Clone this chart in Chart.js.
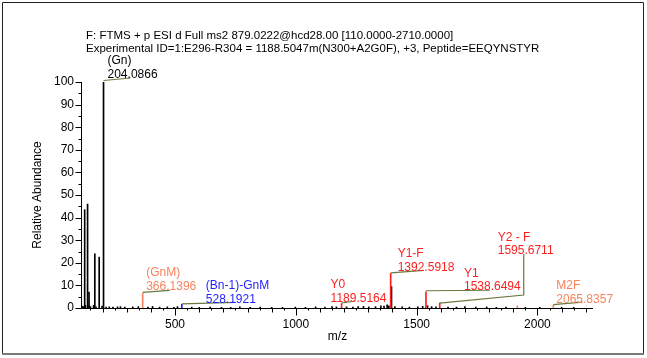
<!DOCTYPE html>
<html>
<head>
<meta charset="utf-8">
<script src="https://cdn.jsdelivr.net/npm/chart.js@4.4.1/dist/chart.umd.min.js"></script>
<style>
  html, body { margin: 0; padding: 0; background: #fff; }
</style>
</head>
<body>
<canvas id="spectre" width="647" height="358"></canvas>
<script>
// Spectre MS2 HCD du glycopeptide EEQYNSTYR (N300 + A2G0F)

const enTete = [
  'F: FTMS + p ESI d Full ms2 879.0222@hcd28.00 [110.0000-2710.0000]',
  'Experimental ID=1:E296-R304 = 1188.5047m(N300+A2G0F), +3, Peptide=EEQYNSTYR'
];

// Pics annotés
const picsMz = [204.0866, 366.1396, 528.1921, 1189.5164, 1392.5918, 1538.6494, 1595.6711, 2065.8357, 1917.0];
const picsIntensite = [100, 6.5, 1.6, 2.0, 15.3, 7.2, 2.2, 1.3, 1.0];
const picsNom = ['(Gn)', '(GnM)', '(Bn-1)-GnM', 'Y0', 'Y1-F', 'Y1', 'Y2 - F', 'M2F', ''];
const picsType = ['oxonium', 'b', 'bn', 'y', 'y', 'y', 'y', 'b', 'b'];

// Autres ions (oxonium, isotopes) et bruit de fond
const autresMz = [126.0550, 138.0550, 144.0655, 168.0655, 186.0761, 1396.0];
const autresIntensite = [43.5, 46.0, 7.0, 24.0, 22.5, 9.5];

const bruitMz = [115.05, 120.08, 129.10, 145.06, 150.06, 163.06, 173.00, 198.09, 215.10, 228.10,
  243.10, 262.10, 274.10, 292.10, 325.10, 348.10, 388.20, 407.20, 436.20, 468.20,
  495.20, 510.20, 569.20, 600.30, 645.30, 692.30, 730.30, 768.30, 811.30, 852.40,
  900.0, 945.0, 998.0, 1040.0, 1082.0, 1120.0, 1150.0, 1168.0, 1210.0, 1236.0,
  1258.0, 1280.0, 1302.0, 1330.0, 1352.0, 1365.0, 1378.0, 1385.0, 1410.0, 1440.0,
  1470.0, 1505.0, 1525.0, 1545.0, 1562.0, 1580.0, 1630.0, 1665.0, 1700.0, 1745.0,
  1790.0, 1830.0, 1870.0, 1950.0, 2010.0, 2100.0, 2150.0];
const bruitIntensite = [0.8, 0.6, 1.2, 1.0, 0.6, 1.2, 0.5, 0.9, 0.4, 0.5,
  0.4, 0.5, 0.6, 0.4, 0.5, 0.6, 0.4, 0.7, 0.4, 0.5,
  0.3, 0.6, 0.4, 0.3, 0.4, 0.3, 0.3, 0.5, 0.3, 0.4,
  0.3, 0.3, 0.4, 0.3, 0.5, 0.4, 0.6, 0.5, 0.5, 0.4,
  0.6, 0.7, 0.5, 0.6, 1.0, 0.8, 1.4, 1.0, 0.6, 0.5,
  0.4, 0.5, 0.7, 1.0, 0.6, 0.5, 0.4, 0.4, 0.6, 0.4,
  0.5, 0.3, 0.4, 0.3, 0.3, 0.3, 0.3];

const yGraduations = [0, 10, 20, 30, 40, 50, 60, 70, 80, 90, 100];
const xGraduations = [500, 1000, 1500, 2000];

// Couleurs par type d'ion
const couleurType = {
  oxonium: '#000000',
  b: '#f6845e',
  bn: '#1f1fff',
  y: '#fb1f1f'
};
const couleurTrait = '#67793c';

// Placement des étiquettes : décalage du texte et tracé du trait de rappel (px, depuis le sommet du pic)
const placement = [
  { dx: 4, dy: -8.5, trait: [[0, -1.5], [27, -4]] },
  { dx: 3.5, dy: -8, trait: [[0, -1], [27, -3]] },
  { dx: 24, dy: -6, trait: [[0, -0.5], [54, -2]] },
  { dx: -11, dy: -6, trait: [[0, -0.5], [14, -2.5]] },
  { dx: 7, dy: -7, trait: [[0, -0.5], [33, -3]] },
  { dx: 38, dy: -6, trait: [[0, -1], [64, -1.5]] },
  { dx: 58, dy: -53, trait: [[0, 0], [84, -8], [84, -49]] },
  { dx: 3, dy: -6.5, trait: [[0, -0.5], [29, -3]] },
  null
];

const police = '"Liberation Sans", Arial, sans-serif';
const fonte = { family: police, size: 12 };

const donneesBruit = bruitMz.map((x, i) => ({ x, y: bruitIntensite[i] }))
  .concat(autresMz.map((x, i) => ({ x, y: autresIntensite[i] })));
const donneesPics = picsMz.map((x, i) => ({ x, y: picsIntensite[i] }));

// Cadre de la fenêtre
const cadre = {
  id: 'cadre',
  beforeDraw(chart) {
    const c = chart.ctx;
    c.save();
    c.fillStyle = '#fff';
    c.fillRect(0, 0, chart.width, chart.height);
    c.strokeStyle = '#222';
    c.lineWidth = 1;
    c.beginPath();
    c.moveTo(2.5, 354);
    c.lineTo(2.5, 2.5);
    c.lineTo(643.5, 2.5);
    c.lineTo(643.5, 354);
    c.stroke();
    c.fillStyle = '#7a7a7a';
    c.fillRect(2, 353, 642, 2);
    c.restore();
  }
};

// Axes et graduations (majeures et mineures)
const graduations = {
  id: 'graduations',
  afterDraw(chart) {
    const c = chart.ctx;
    const xs = chart.scales.x, ys = chart.scales.y;
    const a = chart.chartArea;
    c.save();
    c.strokeStyle = '#000';
    c.lineWidth = 1;
    c.beginPath();
    c.moveTo(a.left - 0.5, ys.getPixelForValue(100));
    c.lineTo(a.left - 0.5, a.bottom + 0.5);
    c.lineTo(a.right, a.bottom + 0.5);
    for (let v = 0; v <= 100; v += 5) {
      const y = Math.round(ys.getPixelForValue(v)) + 0.5;
      const l = v % 10 === 0 ? 6 : 3;
      c.moveTo(a.left - 0.5, y);
      c.lineTo(a.left - 0.5 - l, y);
    }
    for (let v = 150; v <= xs.max; v += 50) {
      const x = Math.round(xs.getPixelForValue(v)) + 0.5;
      const l = v % 500 === 0 ? 7 : (v % 100 === 0 ? 4 : 2);
      c.moveTo(x, a.bottom + 0.5);
      c.lineTo(x, a.bottom + 0.5 + l);
    }
    c.stroke();

    // en-tête du scan
    c.fillStyle = '#000';
    c.font = '11.5px ' + police;
    c.textBaseline = 'alphabetic';
    c.textAlign = 'left';
    c.fillText(enTete[0], 86, 39);
    c.fillText(enTete[1], 86, 52);
    c.restore();
  }
};

// Étiquettes des pics avec traits de rappel
const etiquettes = {
  id: 'etiquettes',
  afterDatasetsDraw(chart) {
    const c = chart.ctx;
    const xs = chart.scales.x, ys = chart.scales.y;
    c.save();
    c.font = '12px ' + police;
    c.textAlign = 'left';
    c.textBaseline = 'alphabetic';
    picsMz.forEach((mz, i) => {
      const p = placement[i];
      if (!p) return;
      const px = xs.getPixelForValue(mz);
      const py = ys.getPixelForValue(picsIntensite[i]);
      c.strokeStyle = couleurTrait;
      c.lineWidth = 1.2;
      c.beginPath();
      p.trait.forEach(([dx, dy], k) => {
        if (k === 0) c.moveTo(px + dx, py + dy);
        else c.lineTo(px + dx, py + dy);
      });
      c.stroke();
      const base = py + p.dy + 4.3;
      c.fillStyle = couleurType[picsType[i]];
      c.fillText(mz.toFixed(4), px + p.dx, base);
      c.fillText(picsNom[i], px + p.dx, base - 13.5);
    });
    c.restore();
  }
};

new Chart(document.getElementById('spectre'), {
  type: 'bar',
  data: {
    datasets: [
      {
        label: 'bruit',
        data: donneesBruit,
        backgroundColor: '#000',
        barThickness: 1,
        grouped: false,
        order: 2
      },
      {
        label: 'pics',
        data: donneesPics,
        backgroundColor: picsType.map(t => couleurType[t]),
        barThickness: 1,
        grouped: false,
        order: 1
      }
    ]
  },
  options: {
    responsive: false,
    animation: false,
    layout: { padding: { left: 26, right: 54, top: 82, bottom: 8 } },
    plugins: {
      legend: { display: false },
      tooltip: { enabled: false }
    },
    scales: {
      x: {
        type: 'linear',
        min: 115,
        max: 2230,
        offset: false,
        grid: { display: false, drawTicks: false },
        border: { display: false },
        afterBuildTicks: s => { s.ticks = xGraduations.map(v => ({ value: v })); },
        ticks: {
          padding: 9, font: fonte, color: '#000', maxRotation: 0, autoSkip: false,
          callback: v => String(v)
        },
        title: { display: true, text: 'm/z', font: fonte, color: '#000', padding: { top: 0, bottom: 6 } },
        afterFit: s => { s.height = 42; }
      },
      y: {
        min: 0,
        max: 100,
        grid: { display: false, drawTicks: false },
        border: { display: false },
        afterBuildTicks: s => { s.ticks = yGraduations.map(v => ({ value: v })); },
        ticks: { padding: 8, font: fonte, color: '#000', autoSkip: false, callback: v => String(v) },
        title: { display: true, text: 'Relative Abundance', font: fonte, color: '#000', padding: { top: 4, bottom: 0 } },
        afterFit: s => { s.width = 56; }
      }
    }
  },
  plugins: [cadre, graduations, etiquettes]
});
</script>
</body>
</html>
